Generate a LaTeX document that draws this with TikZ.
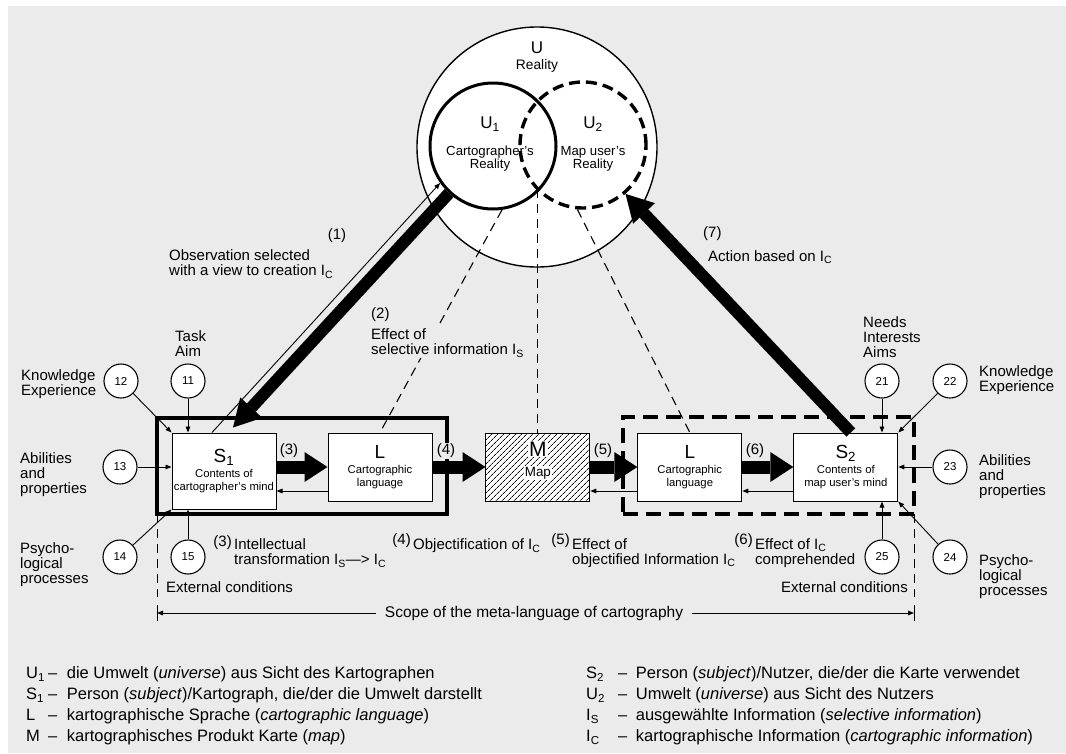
\documentclass[tikz,border=0pt]{standalone}
\usepackage{fontspec}
\setmainfont{Liberation Sans}
\usetikzlibrary{arrows.meta,positioning,fit,patterns.meta}

\definecolor{ink}  {HTML}{000000}
\definecolor{paper}{HTML}{EBEBEB}

\newcommand{\lblsize}{\fontsize{15}{15}\selectfont}
\newcommand{\boxsize}{\fontsize{11.3}{13}\selectfont}
\newcommand{\bigsize}{\fontsize{19}{19}\selectfont}
\newcommand{\realmsize}{\fontsize{13.2}{13}\selectfont}
\newcommand{\keysize}{\fontsize{16.5}{21}\selectfont}
\newcommand{\idx}[1]{\textsubscript{#1}}
\newcommand{\keyrow}[4]{\makebox[#1][l]{#2}–\hspace{#3}#4}

\tikzset{
  realm/.style={circle, draw=ink, fill=white, inner sep=0pt, line width=1.4pt},
  subrealm/.style={circle, draw=ink, inner sep=0pt, line width=3pt, minimum size=126pt},
  unitbox/.style={
    rectangle, draw=ink, fill=white, line width=1pt,
    minimum width=104pt, minimum height=68pt, inner sep=1pt,
    align=center, font=\boxsize
  },
  mapbox/.style={unitbox, preaction={fill=white},
    pattern={Lines[angle=45, distance=4pt, line width=0.8pt]}},
  maptext/.style={fill=white, inner sep=1.2pt, font=\fontsize{13.4}{14}\selectfont},
  factornode/.style={circle, draw=ink, fill=white, line width=1.1pt,
    minimum size=34pt, inner sep=0pt, font=\fontsize{11.5}{12}\selectfont},
  thinarrow/.style={-{Triangle[length=6pt, width=4.6pt]}, line width=0.9pt, draw=ink},
  bigflow/.style={-{Triangle[length=23pt, width=30pt, line width=0pt]},
    line width=13pt, draw=ink},
  diagflow/.style={-{Triangle[length=27pt, width=30pt, line width=0pt]},
    line width=12pt, draw=ink},
  infoline/.style={draw=ink, line width=1.1pt, dash pattern=on 9pt off 6pt},
  extline/.style={draw=ink, line width=1pt, dash pattern=on 9pt off 6pt},
  cartframe/.style={rectangle, draw=ink, line width=4pt, inner sep=0pt, outer sep=0pt},
  userframe/.style={cartframe, dash pattern=on 15pt off 8pt},
  lbl/.style={font=\lblsize, align=left, inner sep=1pt, text=ink},
  lblfill/.style={lbl, fill=paper},
  stepno/.style={font=\lblsize, inner sep=1pt, fill=paper},
  keytext/.style={font=\keysize, align=left, inner sep=0pt, anchor=west}
}

\begin{document}
\begin{tikzpicture}[x=1pt, y=-1pt]
  \useasboundingbox (0,0) rectangle (1066,753);
  \fill[white] (0,0) rectangle (1066,753);
  \fill[paper] (8,6) rectangle (1066,753);

  % reality and the two partial realities
  \node[realm, minimum size=240pt] (u) at (537,147) {};
  \node[subrealm] (u1) at (493,146) {};
  \node[subrealm, line width=3.4pt, dash pattern=on 11pt off 6pt] (u2) at (583,145) {};
  \node[inner sep=0pt, font=\fontsize{17}{17}\selectfont] (usym) at (537,48) {U};
  \node[inner sep=0pt, font=\fontsize{13.8}{14}\selectfont] (utext) at (537,66) {Reality};
  \node[inner sep=0pt, font=\fontsize{17}{17}\selectfont] (u1sym) at (490,124) {U\idx{1}};
  \node[inner sep=0pt, align=center, font=\realmsize] (u1text) at (490,159) {Cartographer's\\Reality};
  \node[inner sep=0pt, font=\fontsize{17}{17}\selectfont] (u2sym) at (593,124) {U\idx{2}};
  \node[inner sep=0pt, align=center, font=\realmsize] (u2text) at (593,159) {Map user's\\Reality};

  % the chain S1 - L - M - L - S2
  \node[unitbox, minimum height=76pt] (s1) at (224,471)
    {{\bigsize S\idx{1}}\\[2pt]Contents of\\cartographer's mind};
  \node[unitbox, below right=0pt and 51pt of s1.north east] (l1)
    {{\bigsize L}\\[2pt]Cartographic\\language};
  \node[mapbox, right=53pt of l1] (m) {};
  \node[maptext, font=\fontsize{21}{21}\selectfont] (mletter) at ([yshift=18pt]m.center) {M};
  \node[maptext] (mword) at ([yshift=-6pt]m.center) {Map};
  \node[unitbox, right=47pt of m] (l2)
    {{\bigsize L}\\[2pt]Cartographic\\language};
  \node[unitbox, right=51pt of l2] (s2)
    {{\bigsize S\idx{2}}\\[2pt]Contents of\\map user's mind};

  % dashed lines of effect from the realities
  \draw[infoline] (u1.278) -- (l1.north);
  \draw[infoline] (m.north |- u1.318) -- (m.north);
  \draw[infoline] (u2.265) -- (l2.north);

  % frames round cartographer and map user
  \node[cartframe, fit={(157,418) (447,514)}] (s1frame) {};
  \node[userframe, fit={(623,417) (914,514)}] (s2frame) {};
  \draw[extline] (s1frame.south west) -- ++(0,83);
  \draw[extline] (s2frame.south east) -- ++(0,83);

  % influencing factors
  \node[factornode] (f11) at (188,381) {11};
  \node[factornode] (f12) at (121,381) {12};
  \node[factornode] (f13) at (120,467) {13};
  \node[factornode] (f14) at (120,557) {14};
  \node[factornode] (f15) at (188,557) {15};
  \node[factornode] (f21) at (882,381) {21};
  \node[factornode] (f22) at (950,381) {22};
  \node[factornode] (f23) at (950,467) {23};
  \node[factornode] (f24) at (950,557) {24};
  \node[factornode] (f25) at (882,557) {25};

  \draw[thinarrow] (f11) -- (f11 |- s1.north);
  \draw[thinarrow] (f12) -- (s1.north west);
  \draw[thinarrow] (f13) -- (f13 -| s1.west);
  \draw[thinarrow] (f14) -- (s1.south west);
  \draw[thinarrow] (f15) -- (f15 |- s1.south);
  \draw[thinarrow] (f21) -- (f21 |- s2.north);
  \draw[thinarrow] (f22) -- (s2.north east);
  \draw[thinarrow] (f23) -- (f23 -| s2.east);
  \draw[thinarrow] (f24) -- (s2.south east);
  \draw[thinarrow] (f25) -- (f25 |- s2.south);

  % main flow and feedback
  \draw[bigflow] (s1.east |- l1) -- (l1.west);
  \draw[bigflow] (l1.east) -- (m.west);
  \draw[bigflow] (m.east) -- (l2.west);
  \draw[bigflow] (l2.east) -- (s2.west |- l2);
  \path (l1.west) ++(0,24) coordinate (back1);
  \path (l2.west) ++(0,24) coordinate (back2);
  \path (s2.west) ++(0,24) coordinate (back3);
  \draw[thinarrow] (back1) -- (back1 -| s1.east);
  \draw[thinarrow] (back2) -- (back2 -| m.east);
  \draw[thinarrow] (back3) -- (back3 -| l2.east);

  % observation and action
  \draw[diagflow] (u1.227) -- ([xshift=9pt,yshift=5pt]s1.north);
  \draw[thinarrow] ([xshift=-12pt]s1.north) -- (u1.215);
  \draw[diagflow] ([xshift=5pt]s2.north) -- (u2.311);

  % texts
  \node[lbl] (obsno) at (337,236) {(1)};
  \node[lbl, anchor=west] (obs) at (168,264) {Observation selected\\with a view to creation I\idx{C}};
  \node[lbl, anchor=west] (selno) at (370,315) {(2)};
  \node[lblfill, anchor=west] (sel) at (370,343) {Effect of\\selective information I\idx{S}};
  \node[lbl, anchor=west] (actno) at (702,234) {(7)};
  \node[lbl, anchor=west] (act) at (707,257) {Action based on I\idx{C}};

  \node[lbl, anchor=west] (know1) at (20,384) {Knowledge\\Experience};
  \node[lbl, anchor=west] (task) at (174,344) {Task\\Aim};
  \node[lbl, anchor=west] (abil1) at (19,475) {Abilities\\and\\properties};
  \node[lbl, anchor=west] (psy1) at (19,565) {Psycho-\\logical\\processes};
  \node[lbl, anchor=west] (ext1) at (165,587) {External conditions};
  \node[lbl, anchor=west] (needs) at (862,337) {Needs\\Interests\\Aims};
  \node[lbl, anchor=west] (know2) at (978,380) {Knowledge\\Experience};
  \node[lbl, anchor=west] (abil2) at (978,477) {Abilities\\and\\properties};
  \node[lbl, anchor=west] (psy2) at (978,577) {Psycho-\\logical\\processes};
  \node[lbl, anchor=east] (ext2) at (909,587) {External conditions};

  \node[stepno] (n3) at (289,451) {(3)};
  \node[stepno] (n4) at (446,451) {(4)};
  \node[stepno] (n5) at (603,451) {(5)};
  \node[stepno] (n6) at (755,451) {(6)};

  \node[lbl, anchor=east] (t3no) at (233,543) {(3)};
  \node[lbl, anchor=west] (t3) at (233,553) {Intellectual\\transformation I\idx{S}—> I\idx{C}};
  \node[lbl, anchor=east] (t4no) at (412,541) {(4)};
  \node[lbl, anchor=west] (t4) at (412,546) {Objectification of I\idx{C}};
  \node[lbl, anchor=east] (t5no) at (571,541) {(5)};
  \node[lbl, anchor=west] (t5) at (571,553) {Effect of\\objectified Information I\idx{C}};
  \node[lbl, anchor=east] (t6no) at (754,541) {(6)};
  \node[lbl, anchor=west] (t6) at (754,553) {Effect of I\idx{C}\\comprehended};

  % scope of the meta-language
  \node[lbl, inner xsep=9pt, font=\fontsize{15.5}{16}\selectfont] (scope) at (534,613)
    {Scope of the meta-language of cartography};
  \coordinate (scopeL) at (s1frame.south west |- scope);
  \coordinate (scopeR) at (s2frame.south east |- scope);
  \draw[thinarrow] (scope) -- (scopeL);
  \draw[thinarrow] (scope) -- (scopeR);
  \draw[line width=1pt] ([yshift=8pt]scopeL) -- ([yshift=-8pt]scopeL);
  \draw[line width=1pt] ([yshift=8pt]scopeR) -- ([yshift=-8pt]scopeR);

  % key
  \node[keytext] (keyleft) at (26,706) {%
    \keyrow{22pt}{U\idx{1}}{9.5pt}{die Umwelt (\textit{universe}) aus Sicht des Kartographen}\\
    \keyrow{22pt}{S\idx{1}}{9.5pt}{Person (\textit{subject})/Kartograph, die/der die Umwelt darstellt}\\
    \keyrow{22pt}{L}{9.5pt}{kartographische Sprache (\textit{cartographic language})}\\
    \keyrow{22pt}{M}{9.5pt}{kartographisches Produkt Karte (\textit{map})}};
  \node[keytext] (keyright) at (586,706) {%
    \keyrow{32pt}{S\idx{2}}{8.5pt}{Person (\textit{subject})/Nutzer, die/der die Karte verwendet}\\
    \keyrow{32pt}{U\idx{2}}{8.5pt}{Umwelt (\textit{universe}) aus Sicht des Nutzers}\\
    \keyrow{32pt}{I\idx{S}}{8.5pt}{ausgewählte Information (\textit{selective information})}\\
    \keyrow{32pt}{I\idx{C}}{8.5pt}{kartographische Information (\textit{cartographic information})}};
\end{tikzpicture}
\end{document}
